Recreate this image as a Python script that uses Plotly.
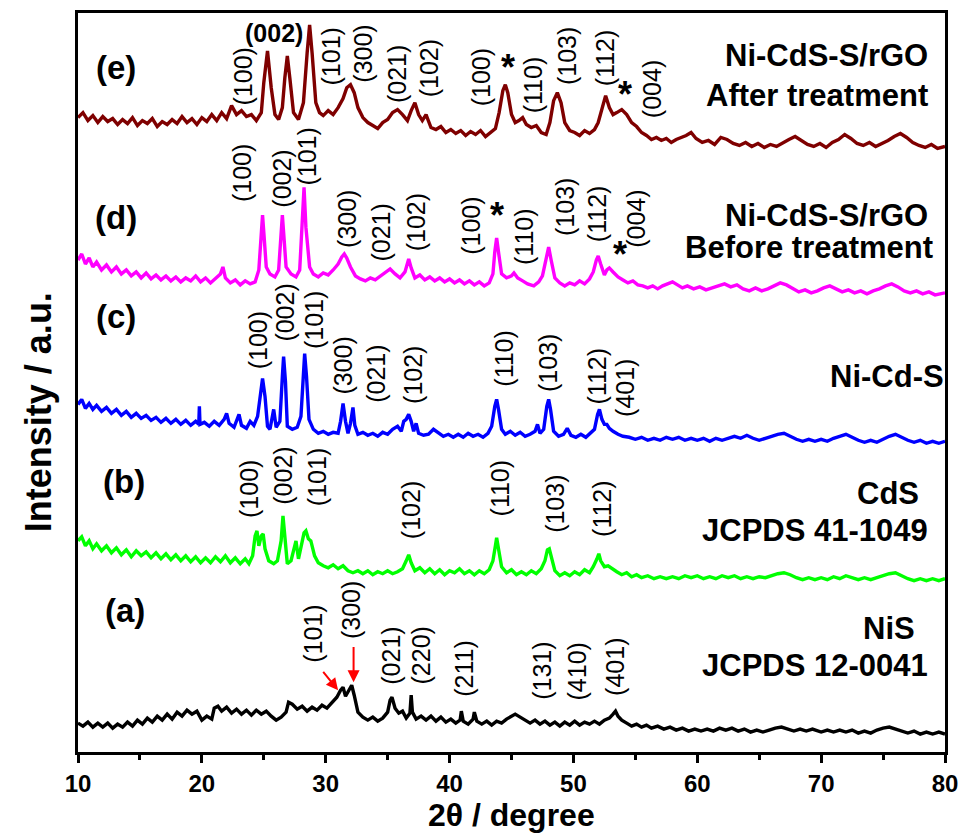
import plotly.graph_objects as go

# ---------------- data: 2theta (degree), intensity (a.u., own baseline) ----------------
pattern_e = [(10.0,35),(10.4,40),(10.8,32),(11.2,37),(11.6,30),(12.0,36),(12.4,31),(12.8,34),(13.2,28),(13.6,33),
 (14.0,29),(14.4,35),(14.8,27),(15.2,32),(15.6,29),(16.0,34),(16.4,26),(16.8,31),(17.2,28),(17.6,33),(18.0,29),
 (18.4,36),(18.8,30),(19.2,34),(19.6,28),(20.0,35),(20.4,31),(20.8,38),(21.2,32),(21.6,40),(22.0,34),(22.4,47),
 (22.8,38),(23.2,42),(23.6,36),(24.0,38),(24.4,32),(24.8,40),(25.0,70),(25.3,102),(25.6,65),(25.9,38),(26.2,33),
 (26.5,45),(26.7,75),(26.9,97),(27.1,75),(27.4,40),(27.8,33),(28.2,50),(28.5,100),(28.7,128),(28.9,100),(29.2,50),
 (29.5,40),(29.8,37),(30.2,42),(30.6,38),(31.0,45),(31.4,54),(31.7,65),(32.0,68),(32.3,60),(32.6,45),(33.0,35),
 (33.4,30),(33.8,27),(34.2,24),(34.6,30),(35.0,33),(35.4,40),(35.8,43),(36.2,38),(36.6,32),(36.9,42),(37.2,50),
 (37.5,38),(37.8,32),(38.1,38),(38.5,25),(38.9,23),(39.3,26),(39.7,20),(40.1,23),(40.5,19),(40.9,22),(41.3,17),
 (41.7,21),(42.1,18),(42.5,22),(42.9,16),(43.3,20),(43.7,24),(44.0,40),(44.3,62),(44.5,68),(44.7,60),(45.0,38),
 (45.3,30),(45.6,32),(45.9,35),(46.2,28),(46.6,25),(47.0,27),(47.4,20),(47.8,18),(48.1,30),(48.4,52),(48.7,60),
 (49.0,50),(49.3,30),(49.7,22),(50.1,20),(50.5,17),(50.9,22),(51.3,19),(51.7,23),(52.0,30),(52.3,44),(52.6,57),
 (52.9,45),(53.2,38),(53.5,40),(53.9,43),(54.3,38),(54.7,30),(55.1,26),(55.5,20),(55.9,17),(56.3,13),(56.7,15),
 (57.1,12),(57.5,14),(57.9,10),(58.3,13),(58.7,15),(59.1,17),(59.5,20),(59.9,14),(60.4,10),(60.9,12),(61.4,8),
 (61.9,15),(62.4,13),(62.9,9),(63.4,7),(63.9,10),(64.4,6),(64.9,9),(65.4,5),(65.9,8),(66.4,6),(66.9,10),(67.4,13),
 (67.9,16),(68.4,12),(68.9,8),(69.4,6),(69.9,9),(70.4,5),(70.9,10),(71.4,13),(71.9,18),(72.4,14),(72.9,9),(73.4,7),
 (73.9,10),(74.4,6),(74.9,9),(75.4,12),(75.9,16),(76.4,19),(76.9,15),(77.4,10),(77.9,7),(78.4,5),(78.9,8),(79.4,4),(80.0,6)]

pattern_d = [(10.0,42),(10.3,48),(10.6,38),(10.9,44),(11.2,35),(11.5,40),(11.9,32),(12.3,37),(12.7,30),(13.1,35),
 (13.5,28),(13.9,32),(14.3,26),(14.7,30),(15.1,24),(15.5,29),(15.9,23),(16.3,27),(16.7,22),(17.1,26),(17.5,21),
 (17.9,25),(18.3,20),(18.7,24),(19.1,21),(19.5,26),(19.9,20),(20.3,24),(20.7,19),(21.1,23),(21.5,28),(21.7,35),
 (21.9,24),(22.3,19),(22.7,22),(23.1,17),(23.5,21),(23.9,18),(24.3,20),(24.6,32),(24.8,70),(24.9,87),(25.0,70),
 (25.2,35),(25.5,28),(25.9,25),(26.2,32),(26.4,70),(26.5,87),(26.6,70),(26.8,35),(27.2,28),(27.6,25),(27.9,32),
 (28.1,75),(28.25,115),(28.4,75),(28.7,35),(29.0,28),(29.4,25),(29.8,29),(30.2,27),(30.6,32),(31.0,38),(31.3,45),
 (31.5,48),(31.7,44),(32.0,35),(32.4,26),(32.8,23),(33.2,21),(33.6,24),(34.0,22),(34.4,26),(34.8,30),(35.2,33),
 (35.6,28),(36.0,24),(36.4,30),(36.6,40),(36.7,43),(36.9,34),(37.2,24),(37.6,27),(38.0,22),(38.4,25),(38.8,21),
 (39.2,24),(39.6,20),(40.0,23),(40.4,19),(40.8,22),(41.2,18),(41.6,21),(42.0,17),(42.4,20),(42.8,16),(43.2,19),
 (43.5,28),(43.65,50),(43.8,64),(43.95,50),(44.2,28),(44.6,24),(45.0,26),(45.2,29),(45.5,24),(45.9,21),(46.3,18),
 (46.8,16),(47.2,20),(47.5,26),(47.8,45),(48.0,55),(48.2,42),(48.5,24),(48.9,19),(49.3,16),(49.7,19),(50.1,17),
 (50.5,21),(50.9,18),(51.3,23),(51.6,30),(51.85,42),(52.0,46),(52.2,38),(52.5,27),(52.7,32),(52.9,34),(53.2,30),
 (53.6,25),(54.0,22),(54.4,19),(54.8,21),(55.2,17),(55.6,16),(56.0,14),(56.4,16),(56.8,13),(57.2,16),(57.6,18),
 (58.0,20),(58.4,17),(58.8,14),(59.2,16),(59.7,13),(60.2,15),(60.7,12),(61.2,14),(61.7,16),(62.2,18),(62.7,15),
 (63.2,17),(63.7,13),(64.2,11),(64.7,14),(65.2,11),(65.7,13),(66.2,16),(66.7,19),(67.2,17),(67.7,13),(68.2,10),
 (68.7,12),(69.2,9),(69.7,11),(70.2,14),(70.7,16),(71.2,13),(71.7,10),(72.2,12),(72.7,9),(73.2,11),(73.7,8),
 (74.2,11),(74.7,13),(75.2,16),(75.7,18),(76.2,15),(76.7,11),(77.2,9),(77.7,11),(78.2,8),(78.7,10),(79.2,7),(80.0,9)]

pattern_c = [(10.0,47),(10.3,52),(10.6,43),(10.9,48),(11.2,42),(11.5,46),(11.9,40),(12.3,44),(12.7,38),(13.1,42),
 (13.5,36),(13.9,40),(14.3,34),(14.7,38),(15.1,33),(15.5,36),(15.9,31),(16.3,34),(16.7,29),(17.1,33),(17.5,28),
 (17.9,32),(18.3,27),(18.7,31),(19.1,26),(19.5,30),(19.75,27),(19.8,45),(19.85,27),(20.2,29),(20.6,25),(21.0,30),
 (21.4,26),(21.8,32),(22.0,38),(22.2,28),(22.6,24),(23.0,37),(23.2,26),(23.6,23),(23.9,30),(24.2,26),(24.5,35),
 (24.7,55),(24.9,73),(25.1,55),(25.3,25),(25.5,22),(25.8,42),(26.0,24),(26.3,30),(26.5,75),(26.6,95),(26.75,70),
 (26.9,25),(27.3,22),(27.7,24),(28.0,35),(28.15,75),(28.3,98),(28.45,75),(28.65,32),(29.0,22),(29.4,18),(29.8,20),
 (30.2,17),(30.6,19),(31.0,18),(31.2,30),(31.4,48),(31.6,30),(31.8,18),(32.0,28),(32.2,44),(32.35,26),(32.6,17),
 (33.0,19),(33.4,16),(33.8,18),(34.2,15),(34.6,19),(35.0,17),(35.4,22),(35.8,25),(36.1,20),(36.3,30),(36.5,32),
 (36.7,37),(36.9,30),(37.1,20),(37.3,28),(37.5,18),(37.9,16),(38.3,17),(38.7,22),(39.1,18),(39.5,15),(39.9,17),
 (40.3,14),(40.7,17),(41.1,14),(41.5,18),(41.9,15),(42.3,17),(42.7,14),(43.1,18),(43.4,25),(43.65,45),(43.8,52),
 (43.95,42),(44.2,22),(44.5,17),(44.9,20),(45.3,16),(45.7,19),(46.1,15),(46.5,17),(46.9,20),(47.1,27),(47.3,18),
 (47.6,22),(47.85,45),(48.0,52),(48.15,42),(48.4,20),(48.8,15),(49.2,17),(49.5,23),(49.8,16),(50.2,14),(50.6,17),
 (51.0,14),(51.4,18),(51.7,22),(51.95,37),(52.1,42),(52.3,32),(52.5,27),(52.7,27),(52.9,23),(53.2,20),(53.6,17),
 (54.0,15),(54.5,14),(55.0,12),(55.5,14),(56.0,11),(56.5,13),(57.0,11),(57.5,14),(58.0,12),(58.5,14),(59.0,11),
 (59.5,13),(60.0,11),(60.5,13),(61.0,10),(61.5,13),(62.0,11),(62.5,13),(63.0,15),(63.5,13),(64.0,16),(64.5,13),
 (65.0,11),(65.5,13),(66.0,15),(66.5,17),(67.0,18),(67.5,15),(68.0,12),(68.5,10),(69.0,12),(69.5,10),(70.0,12),
 (70.5,10),(71.0,13),(71.5,15),(72.0,17),(72.5,14),(73.0,11),(73.5,9),(74.0,11),(74.5,9),(75.0,12),(75.5,15),
 (76.0,17),(76.5,14),(77.0,11),(77.5,9),(78.0,11),(78.5,8),(79.0,10),(79.5,8),(80.0,10)]

pattern_b = [(10.0,50),(10.3,54),(10.6,45),(10.9,50),(11.2,42),(11.5,47),(11.9,40),(12.3,45),(12.7,38),(13.1,43),
 (13.5,36),(13.9,41),(14.3,34),(14.7,40),(15.1,35),(15.5,39),(15.9,33),(16.3,38),(16.7,32),(17.1,37),(17.5,31),
 (17.9,36),(18.3,30),(18.7,35),(19.1,29),(19.5,34),(19.9,28),(20.3,33),(20.7,28),(21.1,34),(21.5,29),(21.9,35),
 (22.3,28),(22.7,33),(23.1,27),(23.5,32),(23.8,27),(24.1,35),(24.3,55),(24.45,60),(24.6,45),(24.8,55),(24.95,57),
 (25.1,42),(25.4,30),(25.8,27),(26.1,30),(26.4,50),(26.55,75),(26.7,50),(26.9,27),(27.2,30),(27.4,42),(27.6,50),
 (27.8,32),(28.0,45),(28.25,58),(28.4,60),(28.6,52),(28.8,50),(29.1,35),(29.4,28),(29.8,25),(30.2,23),(30.6,26),
 (31.0,22),(31.4,25),(31.8,20),(32.2,18),(32.6,20),(33.0,17),(33.4,20),(33.8,16),(34.2,19),(34.6,17),(35.0,20),
 (35.4,17),(35.8,19),(36.2,22),(36.5,30),(36.7,36),(36.9,28),(37.2,20),(37.6,23),(38.0,18),(38.4,22),(38.8,17),
 (39.2,21),(39.6,16),(40.0,20),(40.4,18),(40.8,22),(41.2,17),(41.6,20),(42.0,16),(42.4,20),(42.8,17),(43.2,21),
 (43.5,30),(43.7,45),(43.8,53),(43.95,42),(44.2,24),(44.6,18),(45.0,21),(45.4,16),(45.8,19),(46.2,16),(46.6,20),
 (47.0,17),(47.4,22),(47.7,30),(47.9,41),(48.05,42),(48.25,32),(48.5,20),(48.9,15),(49.3,18),(49.7,15),(50.1,19),
 (50.5,16),(50.9,21),(51.3,18),(51.6,24),(51.9,32),(52.05,37),(52.2,30),(52.5,24),(52.8,25),(53.1,22),(53.5,19),
 (53.9,16),(54.3,18),(54.7,14),(55.1,16),(55.5,13),(56.0,15),(56.5,12),(57.0,14),(57.5,12),(58.0,14),(58.5,12),
 (59.0,15),(59.5,13),(60.0,15),(60.5,12),(61.0,14),(61.5,12),(62.0,15),(62.5,13),(63.0,15),(63.5,12),(64.0,14),
 (64.5,12),(65.0,14),(65.5,13),(66.0,15),(66.5,17),(67.0,18),(67.5,16),(68.0,13),(68.5,11),(69.0,13),(69.5,11),
 (70.0,13),(70.5,11),(71.0,14),(71.5,12),(72.0,15),(72.5,13),(73.0,11),(73.5,13),(74.0,11),(74.5,13),(75.0,15),
 (75.5,17),(76.0,18),(76.5,15),(77.0,12),(77.5,10),(78.0,12),(78.5,10),(79.0,12),(79.5,10),(80.0,12)]

pattern_a = [(10.0,17),(10.4,14),(10.8,18),(11.2,13),(11.6,17),(12.0,13),(12.4,17),(12.8,12),(13.2,16),(13.6,13),
 (14.0,18),(14.4,14),(14.8,20),(15.2,16),(15.6,22),(16.0,18),(16.4,24),(16.8,20),(17.2,26),(17.6,21),(18.0,28),
 (18.4,24),(18.8,30),(19.2,26),(19.6,29),(20.0,20),(20.4,24),(20.8,21),(21.0,32),(21.3,34),(21.6,29),(22.0,33),
 (22.4,27),(22.8,31),(23.2,26),(23.6,30),(24.0,25),(24.4,30),(24.8,26),(25.2,29),(25.6,24),(26.0,20),(26.4,23),
 (26.8,28),(27.0,38),(27.3,36),(27.7,31),(28.1,34),(28.5,29),(28.9,33),(29.3,30),(29.7,35),(30.1,32),(30.5,38),
 (30.9,43),(31.2,50),(31.4,53),(31.6,44),(31.9,50),(32.1,55),(32.3,45),(32.6,28),(33.0,23),(33.4,20),(33.8,23),
 (34.2,19),(34.6,22),(35.0,28),(35.2,40),(35.35,43),(35.6,32),(35.9,27),(36.2,29),(36.5,22),(36.8,27),(36.9,45),
 (37.0,28),(37.3,21),(37.7,24),(38.1,20),(38.5,24),(38.9,19),(39.3,23),(39.7,18),(40.1,21),(40.5,17),(40.85,20),
 (40.95,29),(41.1,19),(41.5,16),(41.9,21),(42.0,28),(42.2,19),(42.6,16),(43.0,19),(43.4,15),(43.8,19),(44.2,17),
 (44.6,21),(45.0,24),(45.3,26),(45.7,23),(46.1,20),(46.5,17),(46.9,20),(47.3,16),(47.7,19),(48.1,15),(48.5,18),
 (48.9,14),(49.3,18),(49.7,15),(50.1,19),(50.5,15),(50.9,18),(51.3,16),(51.7,19),(52.1,16),(52.5,20),(52.9,22),
 (53.2,26),(53.4,29),(53.6,24),(53.9,20),(54.3,17),(54.7,14),(55.1,16),(55.5,13),(55.9,15),(56.3,12),(56.8,14),
 (57.3,11),(57.8,13),(58.3,10),(58.8,12),(59.3,9),(59.8,11),(60.3,9),(60.8,11),(61.3,9),(61.8,12),(62.3,10),
 (62.8,12),(63.3,9),(63.8,11),(64.3,8),(64.8,10),(65.3,8),(65.8,10),(66.3,12),(66.8,13),(67.3,11),(67.8,9),
 (68.3,11),(68.8,9),(69.3,11),(70.0,8),(70.5,10),(71.0,8),(71.5,10),(72.0,8),(72.5,10),(73.0,7),(73.5,9),(74.0,7),
 (74.5,10),(75.0,12),(75.5,13),(76.0,11),(76.5,9),(77.0,7),(77.5,9),(78.0,6),(78.5,8),(79.0,6),(79.5,8),(80.0,6)]

series_names = ["(a)", "(b)", "(c)", "(d)", "(e)"]
series_patterns = [pattern_a, pattern_b, pattern_c, pattern_d, pattern_e]
series_offsets = [12, 162, 302, 452, 602]
series_colors = ["#000000", "#00ff00", "#0000ff", "#ff00ff", "#7f0000"]

# peak labels: (text, 2theta, y)
labels_e = [("(100)",23.3,678),("(101)",30.4,698),("(300)",33.0,701),("(021)",35.7,681),("(102)",38.3,686),
            ("(100)",42.5,677),("(110)",46.7,670),("(103)",49.5,699),("(112)",52.5,697),("(004)",56.3,666)]
labels_d = [("(100)",23.3,581),("(002)",26.5,576),("(101)",28.5,598),("(300)",31.7,535),("(021)",34.5,522),
            ("(102)",37.3,532),("(100)",41.7,528),("(110)",46.0,518),("(103)",49.3,547),("(112)",51.9,541),
            ("(004)",55.1,535)]
labels_c = [("(100)",24.5,413),("(002)",26.7,441),("(101)",29.0,434),("(300)",31.4,388),("(021)",34.0,380),
            ("(102)",37.0,379),("(110)",44.4,395),("(103)",47.9,391),("(112)",51.9,378),("(401)",54.2,366)]
labels_b = [("(100)",23.8,264),("(002)",26.6,277),("(101)",29.3,276),("(102)",36.9,243),("(110)",44.1,265),
            ("(103)",48.5,249),("(112)",52.3,245)]
labels_a = [("(101)",29.0,119),("(300)",32.0,143),("(021)",35.3,97),("(220)",37.7,97),("(211)",41.2,84),
            ("(131)",47.5,82),("(410)",50.3,81),("(401)",53.4,85)]
stars = [(44.7,687),(54.2,660),(43.8,539),(53.8,500)]
horiz_labels = [("(002)",25.8,722)]
panel_letters = [("(e)",13.1,687),("(d)",13.1,537),("(c)",13.1,437),("(b)",13.7,272),("(a)",13.8,142)]
sample_texts = [("Ni-CdS-S/rGO",78.8,699,"right"),("After treatment",78.8,659,"right"),
                ("Ni-CdS-S/rGO",78.8,539,"right"),("Before treatment",79.2,507,"right"),
                ("Ni-Cd-S",75.3,377,"center"),
                ("CdS",75.4,260,"center"),("JCPDS 41-1049",78.8,222,"right"),
                ("NiS",75.5,124,"center"),("JCPDS 12-0041",78.8,87,"right")]
# red arrows: (head x, head y, tail x, tail y)
arrows_a = [(31.0,62,29.7,82),(32.25,70,32.25,107)]

FONT = "Liberation Sans, Arial, sans-serif"

fig = go.Figure()
for name, pts, off, col in zip(series_names, series_patterns, series_offsets, series_colors):
    fig.add_trace(go.Scatter(x=[p[0] for p in pts], y=[p[1] + off for p in pts], mode="lines",
                             line=dict(color=col, width=3.4), name=name, showlegend=False))

ann = []
for lab in (labels_e, labels_d, labels_c, labels_b, labels_a):
    for t, x, y in lab:
        ann.append(dict(x=x, y=y, text=t, textangle=-90, showarrow=False, xanchor="center", yanchor="middle",
                        font=dict(family=FONT, size=25, color="black")))
for t, x, y in horiz_labels:
    ann.append(dict(x=x, y=y, text=t, showarrow=False, xanchor="center", yanchor="middle",
                    font=dict(family=FONT, size=25, color="black", weight="bold")))
for x, y in stars:
    ann.append(dict(x=x, y=y, text="*", showarrow=False, xanchor="center", yanchor="middle",
                    font=dict(family=FONT, size=36, color="black", weight="bold")))
for t, x, y in panel_letters:
    ann.append(dict(x=x, y=y, text=t, showarrow=False, xanchor="center", yanchor="middle",
                    font=dict(family=FONT, size=33, color="black", weight="bold")))
for t, x, y, al in sample_texts:
    ann.append(dict(x=x, y=y, text=t, showarrow=False, xanchor=al, yanchor="middle",
                    font=dict(family=FONT, size=31, color="black", weight="bold")))
for hx, hy, tx, ty in arrows_a:
    ann.append(dict(x=hx, y=hy, ax=tx, ay=ty, axref="x", ayref="y", text="", showarrow=True,
                    arrowhead=2, arrowsize=1.2, arrowwidth=2, arrowcolor="#ff0000"))
# axis titles
ann.append(dict(xref="paper", yref="paper", x=0.5, y=-0.085, text="2θ / degree", showarrow=False,
                xanchor="center", yanchor="middle", font=dict(family=FONT, size=32, color="black", weight="bold")))
ann.append(dict(xref="paper", yref="paper", x=-0.046, y=0.46, text="Intensity / a.u.", showarrow=False, textangle=-90,
                xanchor="center", yanchor="middle", font=dict(family=FONT, size=36, color="black", weight="bold")))

fig.update_layout(
    width=968, height=836, margin=dict(l=78, r=18, t=10, b=84),
    plot_bgcolor="white", paper_bgcolor="white", annotations=ann,
    xaxis=dict(range=[10, 80], dtick=10, tick0=10, ticks="outside", ticklen=8, tickwidth=2.5, tickcolor="black",
               showline=True, linewidth=2.5, linecolor="black", mirror=True, showgrid=False, zeroline=False,
               tickfont=dict(family=FONT, size=24, color="black", weight="bold"),
               minor=dict(dtick=5, tick0=10, ticks="outside", ticklen=5, tickwidth=2.5, tickcolor="black")),
    yaxis=dict(range=[0, 742], showticklabels=False, ticks="", showline=True, linewidth=2.5, linecolor="black",
               mirror=True, showgrid=False, zeroline=False),
)
fig.write_html("out.html")
